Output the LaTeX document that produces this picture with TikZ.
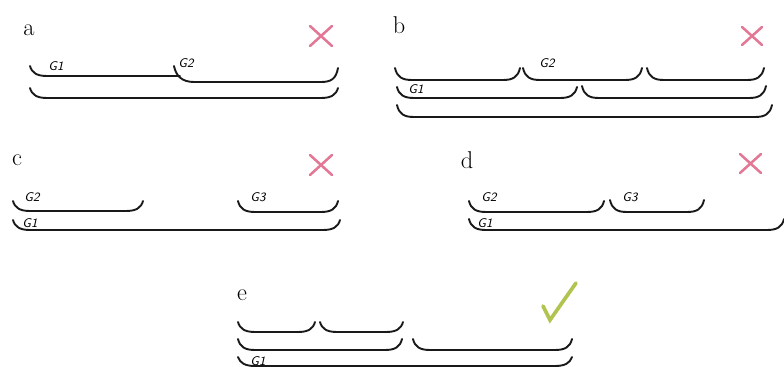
\documentclass[tikz,border=0pt]{standalone}
\usepackage{tikz}

\definecolor{crosspink}{RGB}{226,120,150}
\definecolor{tickgreen}{RGB}{178,196,80}

% one bracket: left end (x1,yt), bottom line at yb, right end (x2,yt)
\newcommand{\hbrack}[4]{%
  \draw[brace] (#1,#3) .. controls (#1+2,#4-3) and (#1+7,#4) .. (#1+17,#4)
    -- (#2-17,#4) .. controls (#2-7,#4) and (#2-2,#4-3) .. (#2,#3);}

\begin{document}
\begin{tikzpicture}[
  x=0.025cm, y=-0.025cm,
  brace/.style={draw=black!90, line width=1.35pt, line cap=round},
  panel/.style={font=\LARGE, inner sep=1pt},
  gname/.style={font=\sffamily\itshape\small, inner sep=0.5pt},
  wrong/.style={draw=crosspink, line width=1.8pt, line cap=round},
  right/.style={draw=tickgreen, line width=2.6pt, line cap=round},
]

% --- fixed bounding box (white background) ---
\fill[white] (0,0) rectangle (784,367);
\useasboundingbox (0,0) rectangle (784,367);

% ============================ PANEL a ================================
\node[panel] (pa) at (29,30) {a};
\draw[wrong] (310,26) -- (332,46) (332,26) -- (310,46);
\node[gname] (a1) at (56,66) {G1};
\node[gname] (a2) at (186,63) {G2};
\draw[brace] (30,66) .. controls (32,73) and (37,76) .. (47,76) -- (180,76);
\draw[brace] (174,66) .. controls (176,76) and (182,82) .. (194,82)
  -- (321,82) .. controls (331,82) and (336,79) .. (338,68);
\hbrack{30}{338}{88}{98}

% ============================ PANEL b ================================
\node[panel] (pb) at (399,25) {b};
\draw[wrong] (742,27) -- (762,45) (762,27) -- (742,45);
\node[gname] (b2) at (547,63) {G2};
\node[gname] (b1) at (416,89) {G1};
\hbrack{395}{520}{68}{80}
\hbrack{523}{642}{68}{80}
\hbrack{647}{764}{68}{80}
\hbrack{397}{577}{87}{98}
\hbrack{582}{766}{86}{98}
\hbrack{397}{772}{105}{117}

% ============================ PANEL c ================================
\node[panel] (pc) at (17,160) {c};
\draw[wrong] (310,155) -- (332,175) (332,155) -- (310,175);
\node[gname] (c2) at (32,197) {G2};
\node[gname] (c3) at (258,197) {G3};
\node[gname] (c1) at (30,223) {G1};
\hbrack{13}{143}{201}{211}
\hbrack{238}{338}{201}{212}
\hbrack{13}{340}{220}{230}

% ============================ PANEL d ================================
\node[panel] (pd) at (467,160) {d};
\draw[wrong] (740,154) -- (761,173) (761,154) -- (740,173);
\node[gname] (d2) at (489,197) {G2};
\node[gname] (d3) at (630,197) {G3};
\node[gname] (d1) at (485,223) {G1};
\hbrack{469}{604}{201}{212}
\hbrack{610}{704}{200}{212}
\hbrack{469}{784}{219}{230}

% ============================ PANEL e ================================
\node[panel] (pe) at (242,295) {e};
\draw[right] (543,306) -- (550,320) -- (576,283);
\node[gname] (e1) at (258,361) {G1};
\hbrack{238}{315}{322}{332}
\hbrack{320}{403}{322}{332}
\hbrack{238}{402}{339}{350}
\hbrack{413}{572}{339}{350}
\hbrack{238}{572}{357}{366}

\end{tikzpicture}
\end{document}
